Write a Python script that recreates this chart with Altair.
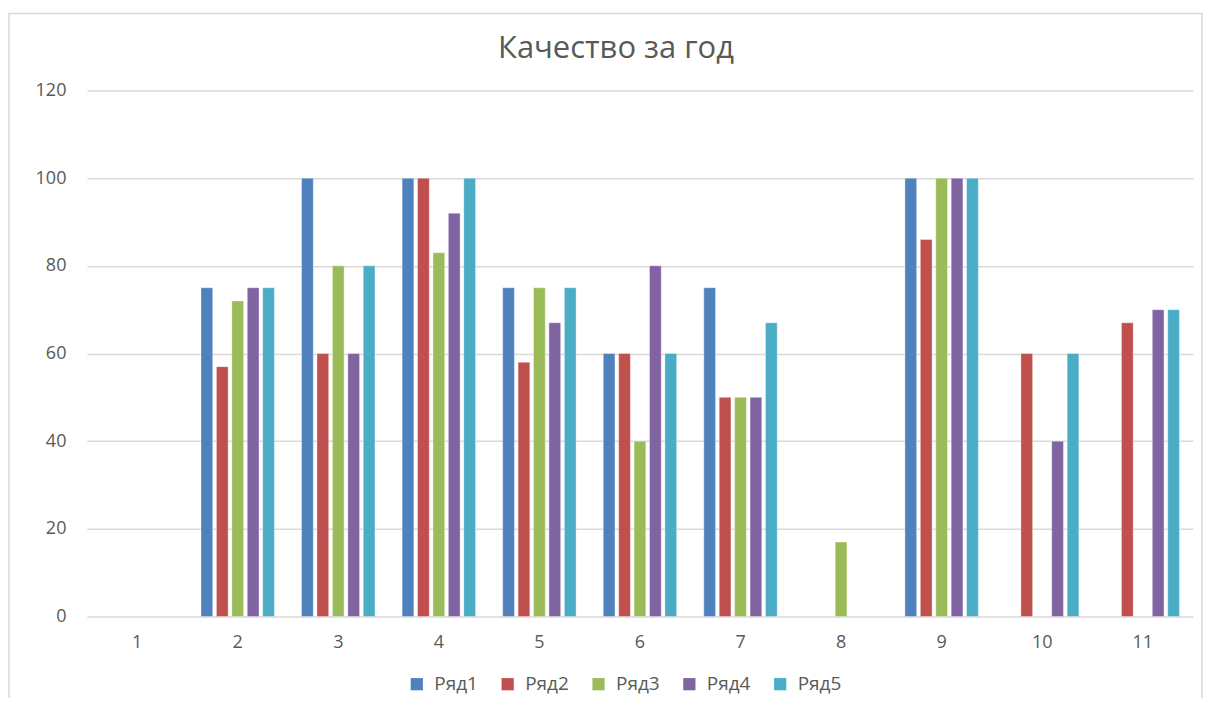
import altair as alt
import pandas as pd

categories = ["1", "2", "3", "4", "5", "6", "7", "8", "9", "10", "11"]
series_names = ["Ряд1", "Ряд2", "Ряд3", "Ряд4", "Ряд5"]
ryad1 = [0, 75, 100, 100, 75, 60, 75, 0, 100, 0, 0]
ryad2 = [0, 57, 60, 100, 58, 60, 50, 0, 86, 60, 67]
ryad3 = [0, 72, 80, 83, 75, 40, 50, 17, 100, 0, 0]
ryad4 = [0, 75, 60, 92, 67, 80, 50, 0, 100, 40, 70]
ryad5 = [0, 75, 80, 100, 75, 60, 67, 0, 100, 60, 70]
colors = ["#4F81BD", "#C0504D", "#9BBB59", "#8064A2", "#4BACC6"]
y_ticks = [0, 20, 40, 60, 80, 100, 120]

rows = []
for name, vals in zip(series_names, [ryad1, ryad2, ryad3, ryad4, ryad5]):
    for c, v in zip(categories, vals):
        rows.append({"cat": c, "series": name, "value": v})
df = pd.DataFrame(rows)

W, H = 1108, 527
PL, PT = 79, 82

bars = alt.Chart(df).transform_filter("datum.value > 0").mark_bar(
    stroke="white", strokeWidth=0.8, strokeOpacity=0.45
).encode(
    x=alt.X("cat:N", sort=categories,
            scale=alt.Scale(domain=categories, paddingInner=0.27, paddingOuter=0.135),
            axis=alt.Axis(title=None, labelAngle=0, ticks=False, domain=False,
                          labelFontSize=18, labelColor="#595959", labelPadding=17,
                          labelFont="Open Sans")),
    xOffset=alt.XOffset("series:N", sort=series_names,
                        scale=alt.Scale(domain=series_names, paddingInner=0.24, paddingOuter=0)),
    y=alt.Y("value:Q", scale=alt.Scale(domain=[0, 120], nice=False),
            axis=alt.Axis(title=None, values=y_ticks, ticks=False, domain=False,
                          labelFontSize=18, labelColor="#595959", labelPadding=21,
                          labelFont="Open Sans", gridColor="#d9d9d9", gridWidth=1.5)),
    color=alt.Color("series:N", sort=series_names,
                    scale=alt.Scale(domain=series_names, range=colors),
                    legend=alt.Legend(title=None, orient="none", direction="horizontal",
                                      legendX=321, legendY=585,
                                      symbolType="square", symbolSize=150,
                                      symbolStrokeWidth=0,
                                      labelFontSize=19, labelColor="#595959",
                                      labelFont="Open Sans", columnPadding=20,
                                      labelOffset=8)),
)

frame = alt.Chart(pd.DataFrame({"a": [0]})).mark_rect(
    fill=None, stroke="#d9d9d9", strokeWidth=1.5
).encode(
    x=alt.value(-78), x2=alt.value(1117), y=alt.value(-77), y2=alt.value(610)
)

chart = alt.layer(frame, bars).properties(
    width=W, height=H,
    title=alt.TitleParams("Качество за год", fontSize=31, font="Open Sans",
                          fontWeight="normal", color="#595959", anchor="middle",
                          offset=-52, dx=-24),
    padding={"left": PL, "top": PT, "right": 10, "bottom": 81},
    autosize=alt.AutoSizeParams(type="none"),
).configure_view(stroke=None)

chart.save("out.html", embed_options={"renderer": "svg", "actions": False})
